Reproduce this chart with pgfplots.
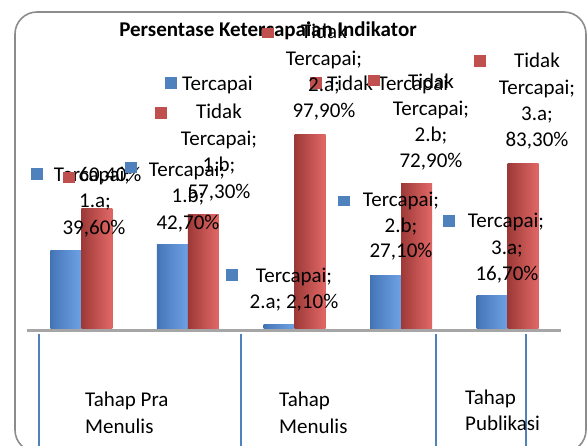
\documentclass[border=0pt]{standalone}
\usepackage{fontspec}
\setmainfont{Carlito}
\usepackage{pgfplots}
\pgfplotsset{compat=1.18}
\definecolor{bdark}{RGB}{40,74,124}
\definecolor{bmid}{RGB}{72,122,188}
\definecolor{blight}{RGB}{108,158,226}
\definecolor{bend}{RGB}{86,134,204}
\definecolor{rdark}{RGB}{104,34,33}
\definecolor{rmid}{RGB}{164,62,60}
\definecolor{rlight}{RGB}{222,102,100}
\definecolor{rend}{RGB}{198,84,82}
\definecolor{keyblue}{RGB}{79,129,189}
\definecolor{keyred}{RGB}{192,80,77}
\definecolor{sepblue}{RGB}{79,129,189}
\definecolor{bordergray}{RGB}{140,140,140}
\definecolor{axisgray}{RGB}{166,166,166}
\pgfdeclarehorizontalshading{bluecyl}{100bp}{color(0bp)=(bdark); color(30bp)=(bmid); color(72bp)=(blight); color(100bp)=(bend)}
\pgfdeclarehorizontalshading{redcyl}{100bp}{color(0bp)=(rdark); color(30bp)=(rmid); color(72bp)=(rlight); color(100bp)=(rend)}
\newcommand\lbl{\fontsize{21}{26}\selectfont}
\newcommand\lab[3]{\node[anchor=base,inner sep=0pt,font=\lbl] at (#1,#2) {#3};}
\newcommand\labw[3]{\node[anchor=base west,inner sep=0pt,font=\lbl] at (#1,#2) {#3};}
\begin{document}
\begin{tikzpicture}
\useasboundingbox (0,0) rectangle (587pt,445pt);
\begin{axis}[at={(28pt,116pt)}, anchor=south west, scale only axis,
  width=533pt, height=199pt, xmin=-0.5, xmax=4.5, ymin=0, ymax=100,
  hide axis, clip=false, ybar, bar width=31pt,
  tercapai/.style={draw=none, shading=bluecyl, bar shift=-15.5pt},
  tidak/.style={draw=none, shading=redcyl, bar shift=15.5pt}]
% Tercapai
\addplot[tercapai] coordinates {(0,39.6)};
\addplot[tercapai] coordinates {(1,42.7)};
\addplot[tercapai] coordinates {(2,2.1)};
\addplot[tercapai] coordinates {(3,27.1)};
\addplot[tercapai] coordinates {(4,16.7)};
% Tidak Tercapai
\addplot[tidak] coordinates {(0,60.4)};
\addplot[tidak] coordinates {(1,57.3)};
\addplot[tidak] coordinates {(2,97.9)};
\addplot[tidak] coordinates {(3,72.9)};
\addplot[tidak] coordinates {(4,83.3)};
\end{axis}
\begin{scope}[shift={(0pt,445pt)}, x=1pt, y=-1pt]
  % border
  \draw[bordergray, line width=1.6pt, rounded corners=22pt] (15,12) rectangle (586,452);
  % axis line
  \draw[axisgray, line width=2.5pt] (27,330.5) -- (561,330.5);
  % separators
  \foreach \sx in {39,241,436,526} \draw[sepblue, line width=1.5pt] (\sx,334) -- (\sx,450);
  % title
  \node[anchor=base,inner sep=0pt,font=\fontsize{21}{26}\selectfont\bfseries] at (268,37) {Persentase Ketercapaian Indikator};
  % legend
  \fill[keyblue] (165,77) rectangle (177,89);
  \labw{182}{91}{Tercapai}
  \fill[keyred] (310,77) rectangle (322,89);
  \labw{327}{91}{Tidak Tercapai}
  % blue 1.a
  \fill[keyblue] (31,168) rectangle (43,180);
  \lab{92}{182}{Tercapai;}
  \lab{95}{208}{1.a;}
  \lab{94}{235}{39,60\%}
  % red 1.a
  \fill[keyred] (63,172) rectangle (75,183);
  \lab{110}{182}{60,40\%}
  % blue 1.b
  \fill[keyblue] (125,162) rectangle (137,173);
  \lab{187}{177}{Tercapai;}
  \lab{188}{203}{1.b;}
  \lab{188}{230}{42,70\%}
  % red 1.b
  \fill[keyred] (155,107) rectangle (167,119);
  \lab{219}{119}{Tidak}
  \lab{219}{146}{Tercapai;}
  \lab{219}{172}{1.b;}
  \lab{219}{199}{57,30\%}
  % red 2.a
  \fill[keyred] (262,28) rectangle (274,38);
  \lab{324}{39}{Tidak}
  \lab{324}{66}{Tercapai;}
  \lab{324}{92}{2.a;}
  \lab{324}{118}{97,90\%}
  % blue 2.a
  \fill[keyblue] (226,269) rectangle (238,281);
  \lab{294}{283}{Tercapai;}
  \lab{294}{309}{2.a; 2,10\%}
  % red 2.b
  \fill[keyred] (368,75) rectangle (380,86);
  \lab{431}{89}{Tidak}
  \lab{431}{115.5}{Tercapai;}
  \lab{431}{142}{2.b;}
  \lab{431}{168}{72,90\%}
  % blue 2.b
  \fill[keyblue] (338,196) rectangle (350,206);
  \lab{401}{207}{Tercapai;}
  \lab{401}{233}{2.b;}
  \lab{401}{258}{27,10\%}
  % red 3.a
  \fill[keyred] (474,55) rectangle (486,67);
  \lab{537}{68}{Tidak}
  \lab{537}{95}{Tercapai;}
  \lab{537}{121}{3.a;}
  \lab{537}{147}{83,30\%}
  % blue 3.a
  \fill[keyblue] (443,215) rectangle (455,227);
  \lab{506}{228}{Tercapai;}
  \lab{507}{255}{3.a;}
  \lab{507}{281}{16,70\%}
  % group labels
  \labw{85}{407}{Tahap Pra}
  \labw{85}{433}{Menulis}
  \labw{279}{407}{Tahap}
  \labw{279}{433}{Menulis}
  \labw{465}{405}{Tahap}
  \labw{465}{430}{Publikasi}
\end{scope}
\end{tikzpicture}
\end{document}
